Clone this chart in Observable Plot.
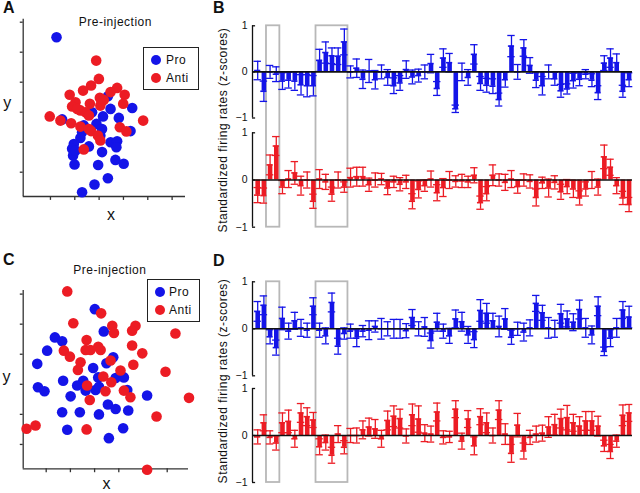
<!DOCTYPE html>
<html><head><meta charset="utf-8">
<script src="https://cdn.jsdelivr.net/npm/d3@7"></script>
<script src="https://cdn.jsdelivr.net/npm/@observablehq/plot@0.6"></script>
<style>
body{margin:0;background:#fff;font-family:"Liberation Sans",Arial,sans-serif;color:#111;}
#fig{position:relative;width:640px;height:493px;overflow:hidden;background:#fff;}
.slot{position:absolute;}
.letter{position:absolute;font-weight:bold;font-size:16px;line-height:16px;}
.legend{position:absolute;border:1.3px solid #222;box-sizing:border-box;background:#fff;}
.legend .dot{position:absolute;width:10px;height:10px;border-radius:50%;}
.legend .lt{position:absolute;font-size:12px;line-height:12px;letter-spacing:0.5px;white-space:nowrap;}
.ylab{position:absolute;font-size:12px;letter-spacing:0.5px;white-space:nowrap;transform:translate(-50%,-50%) rotate(-90deg);}
</style></head>
<body>
<div id="fig">
  <div class="letter" style="left:3px;top:0px">A</div>
  <div class="letter" style="left:213px;top:0px">B</div>
  <div class="letter" style="left:3px;top:252px">C</div>
  <div class="letter" style="left:213px;top:253px">D</div>
  <div class="slot" id="pA" style="left:0;top:0"></div>
  <div class="slot" id="pC" style="left:0;top:250px"></div>
  <div class="slot" id="pB1" style="left:228px;top:12px"></div>
  <div class="slot" id="pB2" style="left:228px;top:125px"></div>
  <div class="slot" id="pD1" style="left:228px;top:268px"></div>
  <div class="slot" id="pD2" style="left:228px;top:382px"></div>
  <div class="ylab" style="left:223px;top:130px">Standardized firing rates (z-scores)</div>
  <div class="ylab" style="left:223px;top:381px">Standardized firing rates (z-scores)</div>
  <div class="legend" style="left:143px;top:47px;width:56px;height:43px">
    <div class="dot" style="left:7px;top:7px;background:#1414e8"></div><div class="lt" style="left:22px;top:6px">Pro</div>
    <div class="dot" style="left:7px;top:25px;background:#ec1c24"></div><div class="lt" style="left:22px;top:24px">Anti</div>
  </div>
  <div class="legend" style="left:147px;top:279px;width:53px;height:43px">
    <div class="dot" style="left:7px;top:7px;background:#1414e8"></div><div class="lt" style="left:21px;top:6px">Pro</div>
    <div class="dot" style="left:7px;top:25px;background:#ec1c24"></div><div class="lt" style="left:21px;top:24px">Anti</div>
  </div>
</div>
<script>
const BLUE = "#1414e8", RED = "#ec1c24";
const FONT = "'Liberation Sans', Arial, sans-serif";

// ---- Bar chart data (61 neurons) ----
const barIndex = d3.range(1, 62);
const boxSpans = [[3, 4], [11, 15]];
const yTicks = [1, 0, -1];
const yTickLabels = ["1", "0", "−1"];

const bProMean = [0.03,-0.42,0.0,-0.05,-0.2,-0.18,-0.2,-0.28,-0.3,-0.3,
  0.25,0.42,0.35,0.34,0.65,0.0,0.08,-0.16,0.02,-0.17,
  0.0,-0.12,-0.3,-0.24,0.05,-0.11,-0.08,0.0,0.18,-0.36,
  0.3,0.2,-0.8,0.0,-0.12,0.38,-0.25,-0.29,-0.31,-0.6,
  -0.17,0.56,0.0,0.52,0.14,-0.18,-0.3,0.0,-0.15,-0.41,
  -0.37,-0.19,-0.16,-0.05,-0.18,-0.45,0.19,0.3,0.2,-0.42,-0.17];
const bProErr = [0.2,0.22,0.14,0.16,0.18,0.17,0.2,0.22,0.24,0.22,
  0.24,0.23,0.17,0.18,0.28,0.13,0.2,0.2,0.25,0.2,
  0.15,0.17,0.17,0.16,0.19,0.15,0.14,0.15,0.2,0.15,
  0.2,0.2,0.08,0.19,0.17,0.21,0.15,0.15,0.16,0.14,
  0.16,0.23,0.16,0.18,0.17,0.16,0.2,0.15,0.14,0.14,
  0.11,0.16,0.14,0.1,0.14,0.15,0.16,0.2,0.19,0.13,0.15];

const bAntiMean = [-0.32,-0.33,0.32,0.72,-0.15,0.02,0.15,-0.12,0.0,-0.45,
  0.02,-0.04,-0.3,0.0,-0.15,0.05,0.07,0.07,-0.1,0.0,
  0.02,-0.17,-0.04,-0.09,-0.04,-0.45,-0.2,-0.12,0.02,-0.27,
  -0.16,0.0,-0.03,-0.02,-0.04,0.1,-0.48,-0.29,0.1,0.0,
  -0.05,0.02,-0.14,0.0,-0.03,-0.37,-0.06,-0.17,-0.05,-0.25,
  -0.14,-0.19,-0.38,-0.19,0.0,-0.15,0.49,0.27,-0.12,-0.38,-0.52];
const bAntiErr = [0.16,0.16,0.21,0.2,0.14,0.18,0.24,0.2,0.17,0.15,
  0.2,0.16,0.15,0.17,0.11,0.2,0.2,0.2,0.14,0.15,
  0.12,0.14,0.12,0.14,0.14,0.16,0.18,0.12,0.17,0.17,
  0.19,0.18,0.12,0.14,0.12,0.16,0.14,0.15,0.22,0.13,
  0.17,0.18,0.14,0.13,0.14,0.18,0.12,0.19,0.14,0.16,
  0.15,0.18,0.15,0.15,0.18,0.17,0.25,0.17,0.17,0.14,0.15];

const dProMean = [0.37,0.5,-0.17,-0.4,0.22,-0.05,0.17,0.02,-0.03,0.48,
  -0.03,-0.15,0.56,-0.37,-0.1,-0.05,-0.2,-0.05,-0.03,0.05,
  0.0,0.0,0.0,0.0,-0.04,0.24,0.0,0.04,-0.25,0.14,
  -0.05,-0.15,0.21,0.15,-0.13,-0.23,0.39,0.33,0.17,0.05,
  0.21,-0.18,0.0,-0.07,0.02,0.54,0.34,0.02,0.0,0.32,
  0.21,0.14,0.41,0.02,-0.13,0.48,-0.48,-0.2,0.02,0.4,0.25];
const dProErr = [0.21,0.2,0.15,0.16,0.24,0.17,0.18,0.18,0.15,0.18,
  0.15,0.17,0.2,0.17,0.12,0.15,0.18,0.12,0.2,0.12,
  0.22,0.15,0.2,0.2,0.15,0.17,0.15,0.2,0.16,0.19,
  0.15,0.16,0.19,0.2,0.18,0.17,0.23,0.21,0.16,0.22,
  0.22,0.15,0.14,0.19,0.17,0.17,0.16,0.22,0.18,0.2,
  0.17,0.18,0.2,0.2,0.19,0.2,0.09,0.18,0.2,0.18,0.23];

const dAntiMean = [-0.03,0.27,-0.04,-0.16,0.27,0.3,-0.07,0.48,0.4,0.33,
  -0.24,-0.15,-0.42,0.03,-0.25,0.0,0.0,0.12,0.18,0.14,
  -0.07,0.32,0.41,0.36,-0.01,0.44,0.35,0.05,0.03,0.5,
  -0.04,-0.03,0.56,-0.12,0.35,-0.22,0.4,0.27,0.0,0.54,
  0.03,-0.38,0.22,-0.33,-0.04,0.03,0.05,0.18,0.23,0.36,
  0.38,0.27,0.2,0.31,0.31,0.2,-0.22,-0.34,-0.12,0.43,0.48];
const dAntiErr = [0.15,0.17,0.14,0.15,0.21,0.24,0.18,0.2,0.19,0.16,
  0.17,0.16,0.17,0.18,0.14,0.15,0.16,0.19,0.19,0.2,
  0.18,0.2,0.22,0.2,0.15,0.23,0.28,0.18,0.17,0.19,
  0.14,0.12,0.18,0.17,0.18,0.19,0.17,0.21,0.16,0.2,
  0.22,0.19,0.25,0.17,0.15,0.17,0.17,0.22,0.22,0.2,
  0.26,0.18,0.2,0.2,0.2,0.21,0.12,0.15,0.13,0.22,0.18];

// ---- Scatter data (unitless projection coordinates) ----
const scatterTicks = [0, 1, 2, 3, 4, 5];
const aProX = [0.25,2.36,2.47,3.36,2.16,2.81,1.71,0.48,1.37,1.89,2.12,3.29,1.3,1.23,1.58,0.96,0.89,2.47,2.74,2.71,2.12,0.93,0.99,2.67,3.01,1.96,2.36,1.81,1.3,2.05,1.03];
const aProY = [4.5,2.53,2.11,2.14,1.86,1.81,2.0,1.76,1.56,1.61,1.44,1.37,1.33,1.14,0.86,0.94,0.78,1.0,1.03,0.83,0.67,0.56,0.26,0.41,0.28,0.24,-0.2,-0.41,-0.67,1.22,0.72];
const aAntiX = [1.88,1.99,1.67,1.34,0.79,2.74,2.47,3.05,2.03,2.1,1.03,0.89,1.62,2.05,2.99,1.23,1.44,1.58,-0.03,0.41,0.85,1.23,1.58,2.85,3.12,3.81,1.67,1.95,2.05,1.37,1.1,2.19];
const aAntiY = [3.72,3.11,2.89,2.72,2.58,2.81,2.67,2.58,2.48,2.37,2.33,2.19,2.28,2.22,2.28,2.06,2.0,1.89,1.86,1.72,1.63,1.52,1.44,1.5,1.36,1.72,1.37,1.22,1.06,0.76,2.11,2.41];

const cProX = [2.01,2.38,0.36,0.66,0.04,-0.37,2.77,2.49,1.94,0.7,1.53,2.15,2.87,3.21,-0.34,-0.07,1.28,1.63,2.04,2.18,3.35,1.01,4.17,2.55,2.87,0.66,1.39,2.18,3.39,0.87,3.18,2.59];
const cProY = [4.5,3.76,3.56,3.43,3.12,2.68,2.9,2.7,2.54,2.12,2.12,2.23,2.21,2.23,1.9,1.77,1.96,1.79,1.81,1.92,1.81,1.6,1.63,1.33,1.18,1.07,1.07,1.0,1.13,0.49,0.54,0.21];
const cAntiX = [0.87,2.27,1.12,2.73,3.69,3.55,2.8,5.34,1.67,0.73,1.63,1.83,2.15,2.25,3.55,3.97,0.98,2.66,1.42,3.6,1.31,3.07,2.36,4.93,2.69,1.69,2.45,3.21,3.48,1.8,5.9,4.56,-0.81,-0.44,1.67,4.17];
const cAntiY = [5.09,4.36,4.03,3.95,3.95,3.78,3.71,3.69,3.47,3.12,3.14,3.14,3.25,3.14,3.29,3.03,2.92,2.79,2.73,2.65,2.48,2.46,2.26,2.42,2.07,1.96,1.77,1.79,1.57,1.48,1.55,0.93,0.52,0.63,0.5,-0.84];

function barChart(means, errs, color, o) {
  const rows = barIndex.map((i, k) => ({i, v: means[k], e: errs[k]}));
  const X0 = 0.16, X1 = 61.55;
  return Plot.plot({
    width: 412, height: o.height,
    marginLeft: 24, marginRight: 8, marginTop: o.mt, marginBottom: o.mb,
    x: {domain: [X0, X1], axis: null},
    y: {domain: [-1, 1], axis: null},
    style: {background: "transparent", overflow: "hidden", fontFamily: FONT, fontSize: "10.5px", color: "#111"},
    marks: [
      Plot.rect(boxSpans, {x1: d => d[0] - 0.58, x2: d => d[1] + 0.58, y1: o.boxTop, y2: o.boxBottom,
        fill: "none", stroke: "#b8b8b8", strokeWidth: 1.8}),
      Plot.ruleX(rows, {x: "i", y1: d => d.v - d.e, y2: d => d.v + d.e, stroke: color, strokeWidth: 1.3}),
      Plot.ruleY(rows, {y: d => d.v + d.e, x1: d => d.i - 0.6, x2: d => d.i + 0.6, stroke: color, strokeWidth: 1.3}),
      Plot.ruleY(rows, {y: d => d.v - d.e, x1: d => d.i - 0.6, x2: d => d.i + 0.6, stroke: color, strokeWidth: 1.3}),
      Plot.ruleX(rows, {x: "i", y1: 0, y2: "v", stroke: color, strokeWidth: 4.6}),
      Plot.ruleY(rows, {y: "v", x1: d => d.i - 0.5, x2: d => d.i + 0.5, stroke: color, strokeWidth: 1.6}),
      Plot.ruleY([0], {x1: X0, x2: X1, stroke: "#111", strokeWidth: 1.6}),
      Plot.ruleX([X0], {y1: -1, y2: 1, stroke: "#111", strokeWidth: 1.3}),
      Plot.ruleY(yTicks, {y: d => d, x1: X0, x2: X0 + 0.5, stroke: "#111", strokeWidth: 1.3}),
      Plot.text(yTicks, {x: X0, y: d => d, text: (d, i) => yTickLabels[i], textAnchor: "end", dx: -5, fill: "#111"})
    ]
  });
}

function scatter(proX, proY, antiX, antiY, o) {
  const pro = proX.map((x, k) => ({x, y: proY[k]}));
  const anti = antiX.map((x, k) => ({x, y: antiY[k]}));
  const [x0, x1] = o.xd, [y0, y1] = o.yd;
  return Plot.plot({
    width: 210, height: o.height,
    marginLeft: 22.7, marginRight: o.mr, marginTop: o.mt, marginBottom: o.mb,
    x: {domain: o.xd, axis: null},
    y: {domain: o.yd, axis: null},
    style: {background: "transparent", overflow: "visible", fontFamily: FONT, fontSize: "12px", color: "#111", letterSpacing: "0.5px"},
    marks: [
      Plot.ruleY([y0], {x1: x0, x2: x1, stroke: "#333", strokeWidth: 1.3}),
      Plot.ruleX([x0], {y1: y0, y2: y1, stroke: "#333", strokeWidth: 1.3}),
      Plot.ruleX(scatterTicks, {x: d => d, y1: y0, y2: y0 - 0.13, stroke: "#333", strokeWidth: 1.3}),
      Plot.ruleY(scatterTicks, {y: d => d, x1: x0, x2: x0 - 0.12, stroke: "#333", strokeWidth: 1.3}),
      Plot.dot(pro, {x: "x", y: "y", r: 5.3, fill: BLUE}),
      Plot.dot(anti, {x: "x", y: "y", r: 5.3, fill: RED}),
      Plot.text(["Pre-injection"], {text: d => d, frameAnchor: "top", lineAnchor: "middle", dx: o.tdx, dy: o.tdy, fontSize: 12, fill: "#111"}),
      Plot.text(["x"], {text: d => d, frameAnchor: "bottom", lineAnchor: "middle", dx: o.xdx, dy: o.xdy, fontSize: 16, fill: "#111"}),
      Plot.text(["y"], {text: d => d, frameAnchor: "left", textAnchor: "middle", lineAnchor: "middle", dx: o.ydx, dy: o.ydy, fontSize: 16, fill: "#111"})
    ]
  });
}

document.getElementById("pA").append(scatter(aProX, aProY, aAntiX, aAntiY, {
  height: 230, mt: 18.7, mb: 34, mr: 25, xd: [-1.12, 5.55], yd: [-0.81, 5.1],
  tdx: 11, tdy: 2.5, xdx: 7, xdy: 18, ydx: -15.7, ydy: -4.5}));
document.getElementById("pC").append(scatter(cProX, cProY, cAntiX, cAntiY, {
  height: 243, mt: 40, mb: 24.7, mr: 22, xd: [-0.95, 5.88], yd: [-0.81, 5.12],
  tdx: 4, tdy: -20.5, xdx: 1, xdy: 15.5, ydx: -16.4, ydy: -2.5}));

document.getElementById("pB1").append(barChart(bProMean, bProErr, BLUE, {height: 113, mt: 13.3, mb: 7.5, boxTop: 1, boxBottom: -3}));
document.getElementById("pB2").append(barChart(bAntiMean, bAntiErr, RED, {height: 115, mt: 7.3, mb: 13.3, boxTop: 3, boxBottom: -1}));
document.getElementById("pD1").append(barChart(dProMean, dProErr, BLUE, {height: 114, mt: 13.3, mb: 6.7, boxTop: 1, boxBottom: -3}));
document.getElementById("pD2").append(barChart(dAntiMean, dAntiErr, RED, {height: 111, mt: 6, mb: 11, boxTop: 3, boxBottom: -1}));
</script>
</body></html>
